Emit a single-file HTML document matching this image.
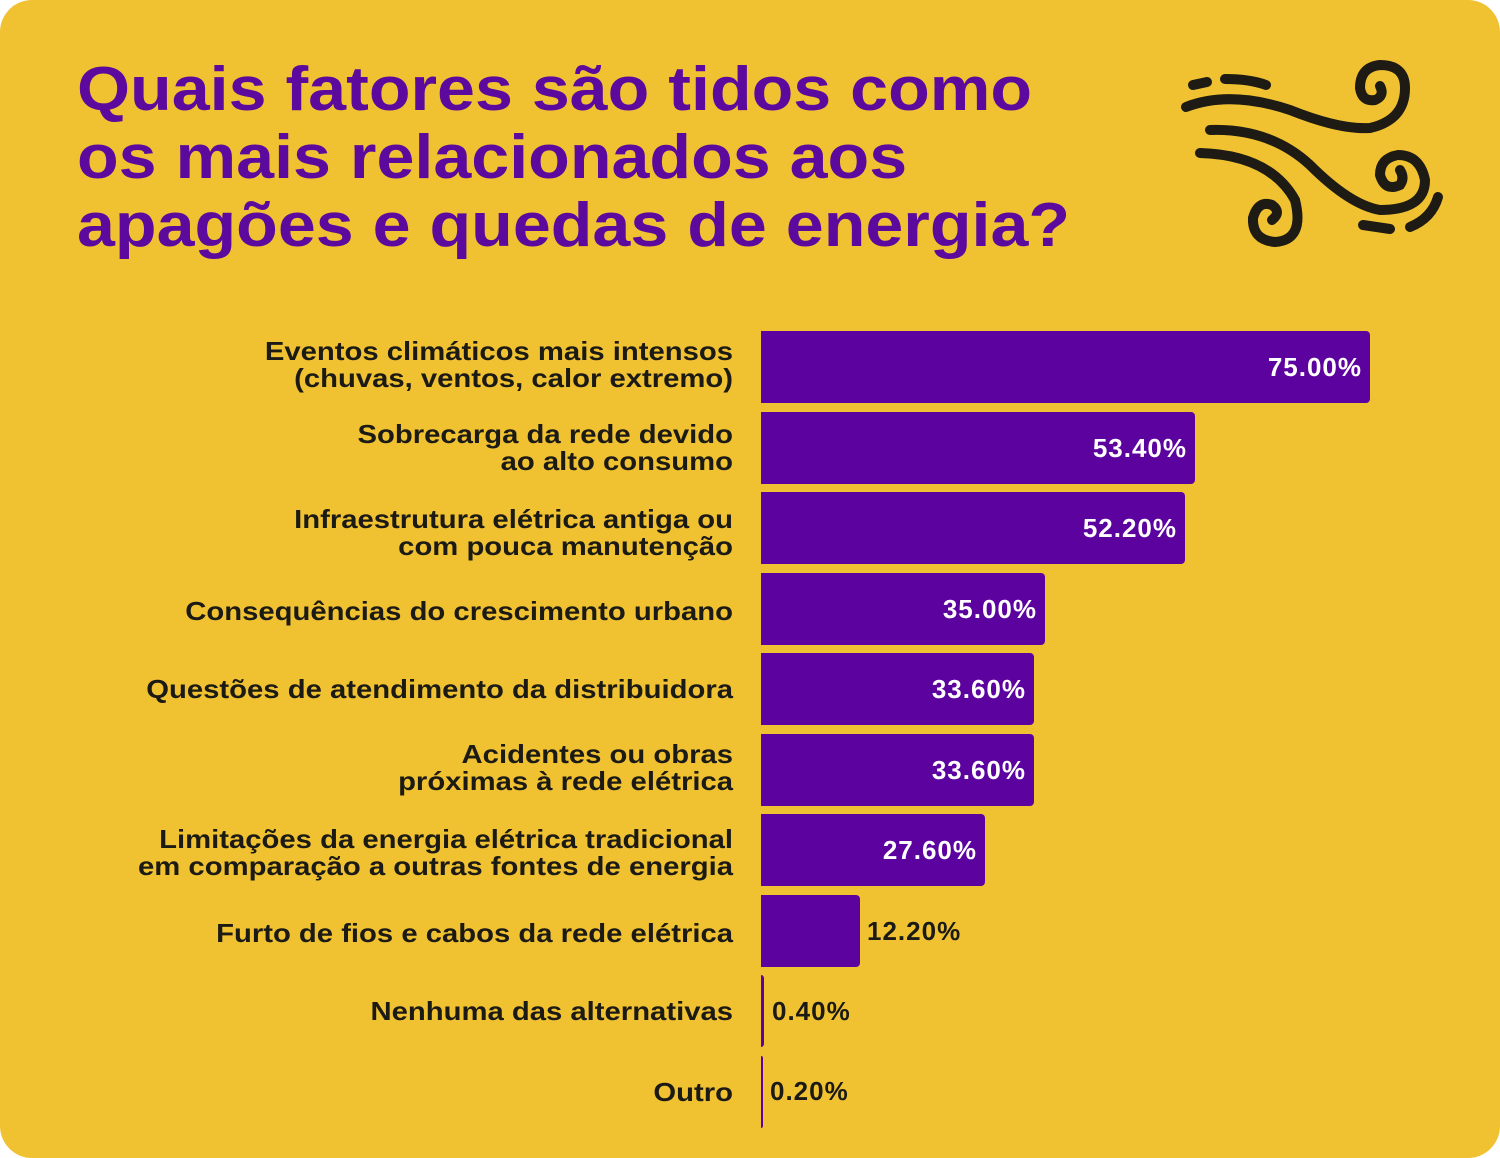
<!DOCTYPE html>
<html><head><meta charset="utf-8"><style>
html,body{margin:0;padding:0;background:#fff;}
#c{position:relative;width:1500px;height:1158px;background:#f0c232;border-radius:32px;overflow:hidden;font-family:"Liberation Sans",sans-serif;}
h1{position:absolute;left:77px;top:56px;margin:0;font-size:62px;line-height:68px;color:#5c0a9e;font-weight:bold;transform:scaleX(1.1);transform-origin:left top;white-space:nowrap;}
.l{position:absolute;right:767px;width:720px;text-align:right;font-weight:bold;font-size:26px;line-height:27px;color:#1c1a14;transform:scaleX(1.125);transform-origin:right top;white-space:nowrap;}
.b{position:absolute;left:761px;height:72px;background:#5c039f;border-radius:0 4px 4px 0;}
.v{position:absolute;font-weight:bold;font-size:26px;line-height:30px;letter-spacing:1px;}
.w{color:#fff;text-align:right;width:200px;}
</style></head><body><div id="c">
<h1>Quais fatores são tidos como<br>os mais relacionados aos<br>apagões e quedas de energia?</h1>
<svg style="position:absolute;left:0;top:0" width="1500" height="300" fill="none" stroke="#1e1a14" stroke-width="10" stroke-linecap="round">
<path d="M1193 85 L1207 82"/><path d="M1225 79 Q1250 79 1266 85"/>
<path d="M1186 107 Q1230 90 1290 110 Q1340 130 1370 128 Q1405 120 1405 88 Q1405 65 1380 65 Q1360 67 1360 88 Q1362 102 1375 100 Q1385 96 1380 86"/>
<path d="M1210 130 Q1270 128 1310 165 Q1350 205 1380 210 Q1425 210 1425 180 Q1420 155 1398 155 Q1380 158 1380 175 Q1385 192 1400 185 Q1405 178 1400 170"/>
<path d="M1200 153 Q1270 155 1295 200 Q1305 240 1275 242 Q1252 240 1253 218 Q1258 200 1272 205 Q1282 212 1272 220"/>
<path d="M1363 225 L1390 229"/><path d="M1410 227 Q1432 218 1438 197"/>
</svg>
<div class="l" style="top:338px">Eventos climáticos mais intensos<br>(chuvas, ventos, calor extremo)</div>
<div class="l" style="top:421px">Sobrecarga da rede devido<br>ao alto consumo</div>
<div class="l" style="top:506px">Infraestrutura elétrica antiga ou<br>com pouca manutenção</div>
<div class="l" style="top:598px">Consequências do crescimento urbano</div>
<div class="l" style="top:676px">Questões de atendimento da distribuidora</div>
<div class="l" style="top:741px">Acidentes ou obras<br>próximas à rede elétrica</div>
<div class="l" style="top:826px">Limitações da energia elétrica tradicional<br>em comparação a outras fontes de energia</div>
<div class="l" style="top:920px">Furto de fios e cabos da rede elétrica</div>
<div class="l" style="top:998px">Nenhuma das alternativas</div>
<div class="l" style="top:1079px">Outro</div>

<div class="b" style="top:331px;width:609px"></div><div class="v w" style="top:352px;left:1162px">75.00%</div>
<div class="b" style="top:412px;width:434px"></div><div class="v w" style="top:433px;left:987px">53.40%</div>
<div class="b" style="top:492px;width:424px"></div><div class="v w" style="top:513px;left:977px">52.20%</div>
<div class="b" style="top:573px;width:284px"></div><div class="v w" style="top:594px;left:837px">35.00%</div>
<div class="b" style="top:653px;width:273px"></div><div class="v w" style="top:674px;left:826px">33.60%</div>
<div class="b" style="top:734px;width:273px"></div><div class="v w" style="top:755px;left:826px">33.60%</div>
<div class="b" style="top:814px;width:224px"></div><div class="v w" style="top:835px;left:777px">27.60%</div>
<div class="b" style="top:895px;width:99px"></div><div class="v" style="top:916px;left:867px;color:#1c1a14">12.20%</div>
<div class="b" style="top:975px;width:3px"></div><div class="v" style="top:996px;left:772px;color:#1c1a14">0.40%</div>
<div class="b" style="top:1056px;width:2px"></div><div class="v" style="top:1076px;left:770px;color:#1c1a14">0.20%</div>
</div></body></html>
